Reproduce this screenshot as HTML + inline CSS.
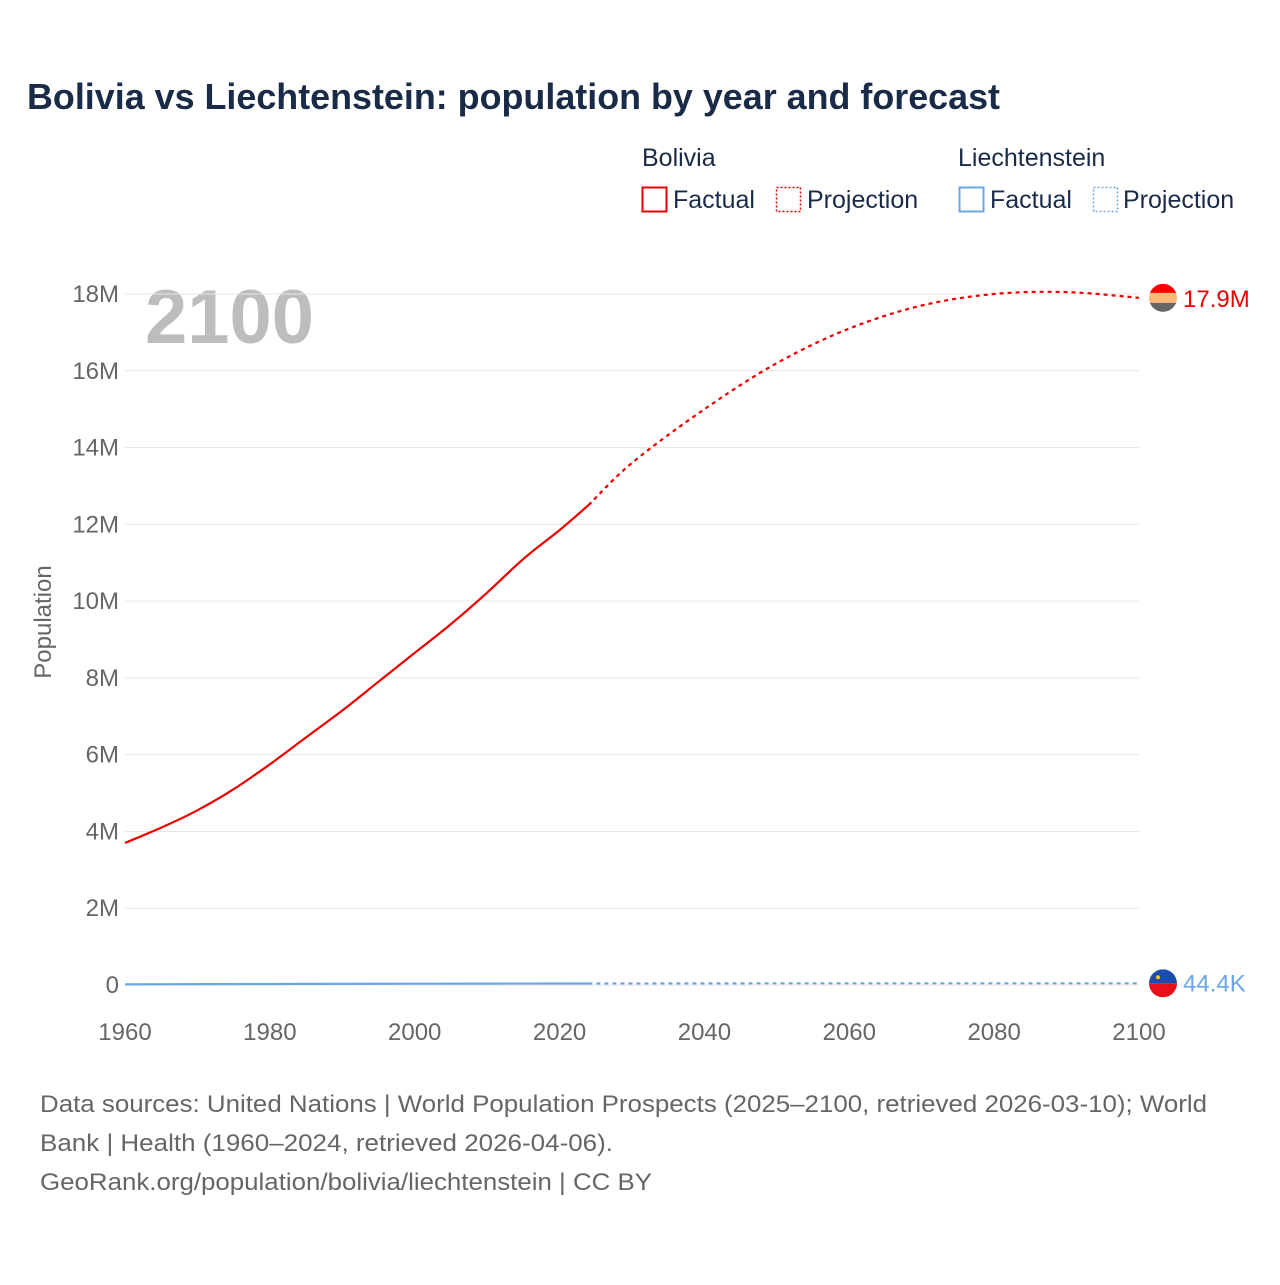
<!DOCTYPE html>
<html><head><meta charset="utf-8"><style>
body{margin:0;background:#fff;font-family:"Liberation Sans",sans-serif;}
</style></head><body>
<svg id="c" width="1280" height="1280" xmlns="http://www.w3.org/2000/svg">
<text x="27" y="109" font-size="36" font-weight="bold" fill="#1a2b48" textLength="973" lengthAdjust="spacingAndGlyphs">Bolivia vs Liechtenstein: population by year and forecast</text>
<g font-size="25" fill="#1a2b48">
<text x="642" y="166">Bolivia</text>
<text x="958" y="166">Liechtenstein</text>
<rect x="642.5" y="187.5" width="24" height="24" fill="none" stroke="#e00" stroke-width="2"/>
<text x="673" y="208">Factual</text>
<rect x="776.5" y="187.5" width="24" height="24" fill="none" stroke="#e00" stroke-width="1.5" stroke-dasharray="2,2"/>
<text x="807" y="208">Projection</text>
<rect x="959.5" y="187.5" width="24" height="24" fill="none" stroke="#6aa6e8" stroke-width="2"/>
<text x="990" y="208">Factual</text>
<rect x="1093.5" y="187.5" width="24" height="24" fill="none" stroke="#6aa6e8" stroke-width="1.5" stroke-dasharray="2,2"/>
<text x="1123" y="208">Projection</text>
</g>
<text x="145" y="343" font-size="76" font-weight="bold" fill="#bdbdbd">2100</text>
<text transform="translate(51,622) rotate(-90)" text-anchor="middle" font-size="24" fill="#666">Population</text>
<g id="grid"></g><g id="marks"></g>
<g font-size="24" fill="#666">
<text x="40" y="1112" textLength="1167" lengthAdjust="spacingAndGlyphs">Data sources: United Nations | World Population Prospects (2025–2100, retrieved 2026-03-10); World</text>
<text x="40" y="1151" textLength="573" lengthAdjust="spacingAndGlyphs">Bank | Health (1960–2024, retrieved 2026-04-06).</text>
<text x="40" y="1190" textLength="612" lengthAdjust="spacingAndGlyphs">GeoRank.org/population/bolivia/liechtenstein | CC BY</text>
</g>
</svg>
<script>
const yTicks=[0,2,4,6,8,10,12,14,16,18];
const xTicks=[1960,1980,2000,2020,2040,2060,2080,2100];
const bolYears=[1960,1965,1970,1975,1980,1985,1990,1995,2000,2005,2010,2015,2020,2024];
const bolVals=[3.70,4.10,4.55,5.10,5.75,6.45,7.15,7.90,8.65,9.40,10.22,11.10,11.85,12.50];
const bolPYears=[2024,2030,2040,2050,2060,2070,2080,2090,2100];
const bolPVals=[12.50,13.60,15.00,16.20,17.10,17.70,18.00,18.05,17.9];
const liYears=[1960,1980,2000,2024];
const liVals=[0.016,0.025,0.033,0.040];
const liPYears=[2024,2050,2075,2100];
const liPVals=[0.040,0.043,0.044,0.0444];
const X=y=>125+(y-1960)*(1014/140);
const Y=v=>985-v*(691/18);
const NS="http://www.w3.org/2000/svg";
const grid=document.getElementById('grid'),marks=document.getElementById('marks');
function mk(tag,at,parent){const e=document.createElementNS(NS,tag);for(const k in at)e.setAttribute(k,at[k]);parent.appendChild(e);return e;}
yTicks.forEach(t=>{
 const l=mk('line',{x1:125,x2:1139,y1:Y(t),y2:Y(t),stroke:'#e6e6e6','stroke-width':1},grid);
 
 
 const tx=mk('text',{x:119,y:Y(t)+8,'text-anchor':'end','font-size':24,fill:'#666'},grid);
 tx.textContent=t===0?'0':t+'M';
 
 
});
xTicks.forEach(t=>{
 const tx=mk('text',{x:X(t),y:1040,'text-anchor':'middle','font-size':24,fill:'#666'},grid);
 tx.textContent=t;
 
 
});
function line(xs,vs,col,dash,name){
 const P=xs.map((x,i)=>[X(x),Y(vs[i])]);
 let d='M'+P[0][0].toFixed(1)+','+P[0][1].toFixed(1);
 for(let i=0;i<P.length-1;i++){
  const p0=P[Math.max(0,i-1)],p1=P[i],p2=P[i+1],p3=P[Math.min(P.length-1,i+2)];
  const c1=[p1[0]+(p2[0]-p0[0])/6,p1[1]+(p2[1]-p0[1])/6];
  const c2=[p2[0]-(p3[0]-p1[0])/6,p2[1]-(p3[1]-p1[1])/6];
  d+='C'+c1.map(v=>v.toFixed(1)).join(',')+' '+c2.map(v=>v.toFixed(1)).join(',')+' '+p2.map(v=>v.toFixed(1)).join(',');
 }
 const p=mk('path',{d:d,fill:'none',stroke:col,'stroke-width':2.2},marks);
 if(dash)p.setAttribute('stroke-dasharray','4,4');
 
 
}
line(bolYears,bolVals,'#e00',false,'bolivia-factual-line');
line(bolPYears,bolPVals,'#e00',true,'bolivia-projection-line');
line(liYears,liVals,'#6aa6e8',false,'liechtenstein-factual-line');
line(liPYears,liPVals,'#6aa6e8',true,'liechtenstein-projection-line');
const bx=1163,by=Y(bolPVals[bolPVals.length-1]);
const bg=mk('g',{},marks);


const cb=mk('clipPath',{id:'cb'},bg);mk('circle',{cx:bx,cy:by,r:14},cb);
mk('rect',{x:bx-14,y:by-14,width:28,height:10,fill:'#f00','clip-path':'url(#cb)'},bg);
mk('rect',{x:bx-14,y:by-5,width:28,height:10,fill:'#ffb878','clip-path':'url(#cb)'},bg);
mk('rect',{x:bx-14,y:by+5,width:28,height:10,fill:'#666','clip-path':'url(#cb)'},bg);
const bl=mk('text',{x:1183,y:by+9,'font-size':24,fill:'#e00'},marks);
bl.textContent='17.9M';


const lx=1163,ly=Y(liPVals[liPVals.length-1]);
const lg=mk('g',{},marks);


const cp=mk('clipPath',{id:'cl'},lg);mk('circle',{cx:lx,cy:ly,r:14},cp);
mk('rect',{x:lx-14,y:ly-14,width:28,height:14,fill:'#1a4cb0','clip-path':'url(#cl)'},lg);
mk('rect',{x:lx-14,y:ly,width:28,height:14,fill:'#e8101a','clip-path':'url(#cl)'},lg);
mk('circle',{cx:lx-5,cy:ly-6,r:2,fill:'#fc0'},lg);
const ll=mk('text',{x:1183,y:ly+8,'font-size':24,fill:'#6aa6e8'},marks);
ll.textContent='44.4K';


</script>
</body></html>
